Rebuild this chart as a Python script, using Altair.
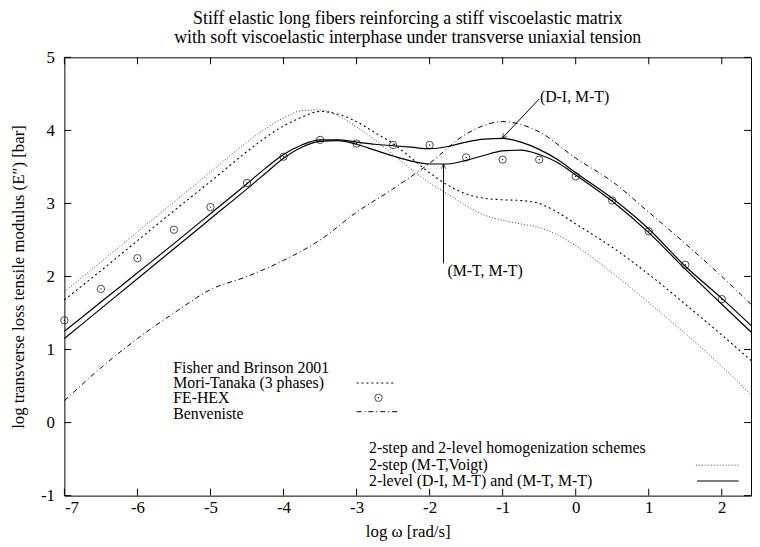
import altair as alt
import pandas as pd

# ---------------- data ----------------
x_grid = [-7, -6.5, -6, -5.5, -5, -4.5, -4.25, -4, -3.75, -3.5, -3.25, -3, -2.75, -2.5,
          -2.25, -2, -1.75, -1.5, -1.25, -1, -0.75, -0.5, -0.25, 0, 0.5, 1, 1.5, 2, 2.4]

voigt = [1.79, 2.20, 2.61, 3.02, 3.43, 3.84, 4.02, 4.17, 4.27, 4.28, 4.20, 4.05, 3.87, 3.67,
         3.47, 3.28, 3.13, 2.97, 2.84, 2.77, 2.72, 2.67, 2.57, 2.42, 2.05, 1.64, 1.22, 0.77, 0.38]

mori_tanaka = [1.68, 2.08, 2.49, 2.90, 3.30, 3.71, 3.90, 4.06, 4.18, 4.26, 4.22, 4.12, 3.97, 3.82,
               3.62, 3.42, 3.25, 3.13, 3.07, 3.05, 3.04, 3.00, 2.88, 2.72, 2.40, 2.03, 1.62, 1.20, 0.85]

di_mt = [1.25, 1.65, 2.05, 2.45, 2.86, 3.27, 3.48, 3.67, 3.80, 3.87, 3.87, 3.84, 3.81, 3.79,
         3.77, 3.75, 3.78, 3.84, 3.88, 3.89, 3.84, 3.74, 3.60, 3.42, 3.07, 2.65, 2.14, 1.70, 1.33]

mt_mt = [1.15, 1.56, 1.97, 2.38, 2.79, 3.20, 3.41, 3.62, 3.77, 3.85, 3.86, 3.81, 3.73, 3.65,
         3.58, 3.54, 3.54, 3.59, 3.66, 3.72, 3.73, 3.67, 3.56, 3.39, 3.03, 2.60, 2.10, 1.62, 1.24]

benv_x = [-7, -6.5, -6, -5.5, -5, -4.5, -4, -3.5, -3, -2.5, -2, -1.5, -1, -0.5, 0, 0.5, 1, 1.5, 2, 2.4]
benveniste = [0.30, 0.75, 1.15, 1.50, 1.82, 2.00, 2.22, 2.50, 2.88, 3.20, 3.55, 3.95, 4.12, 3.98,
              3.62, 3.30, 2.88, 2.45, 2.00, 1.62]

fe_x = [-7, -6.5, -6, -5.5, -5, -4.5, -4, -3.5, -3, -2.5, -2, -1.5, -1, -0.5, 0, 0.5, 1, 1.5, 2]
fe_hex = [1.40, 1.83, 2.25, 2.64, 2.95, 3.28, 3.64, 3.87, 3.82, 3.80, 3.80, 3.63, 3.60, 3.60,
          3.37, 3.04, 2.62, 2.16, 1.69]

x_ticks = [-7, -6, -5, -4, -3, -2, -1, 0, 1, 2]
y_ticks = [-1, 0, 1, 2, 3, 4, 5]

title_lines = ["Stiff elastic long fibers reinforcing a stiff viscoelastic matrix",
               "with soft viscoelastic interphase under transverse uniaxial tension"]

# ---------------- layout ----------------
W, H = 694, 443
FONT = "Liberation Serif"
FS = 16      # legend / annotation text
TFS = 18     # title
AFS = 17     # axis labels and titles
TL = 7       # inward tick length

xs = alt.Scale(domain=[-7, 2.4], nice=False, zero=False)
ys = alt.Scale(domain=[-1, 5], nice=False, zero=False)

ax_common = dict(ticks=False, domain=False, grid=False, labelFont=FONT, labelFontSize=AFS,
                 labelColor="black", titleFont=FONT, titleFontSize=AFS, titleFontWeight="normal",
                 titleColor="black", labelExpr="'' + datum.value")

X = alt.X("x:Q", scale=xs, title="log ω [rad/s]",
          axis=alt.Axis(values=x_ticks, labelPadding=4, titleX=W / 2, titleY=36,
                        titleBaseline="middle", titleAlign="center", **ax_common))
Y = alt.Y("y:Q", scale=ys, title="log transverse loss tensile modulus (E″) [bar]",
          axis=alt.Axis(values=y_ticks, labelPadding=10, titleX=-46, titleY=H / 2,
                        titleAngle=270, titleBaseline="middle", titleAlign="center", **ax_common))


def curve(xv, yv, **mk):
    df = pd.DataFrame({"x": xv, "y": yv})
    return alt.Chart(df).mark_line(interpolate="monotone", **mk).encode(x=X, y=Y)


l_voigt = curve(x_grid, voigt, color="#444", strokeWidth=1, strokeDash=[1, 2])
l_mt = curve(x_grid, mori_tanaka, color="black", strokeWidth=1.1, strokeDash=[2, 3])
l_di = curve(x_grid, di_mt, color="black", strokeWidth=1.2)
l_mtmt = curve(x_grid, mt_mt, color="black", strokeWidth=1.2)
l_benv = curve(benv_x, benveniste, color="black", strokeWidth=1, strokeDash=[5, 3, 1, 3])

fe_df = pd.DataFrame({"x": fe_x, "y": fe_hex})
p_fe = alt.Chart(fe_df).mark_point(shape="circle", size=55, color="black", strokeWidth=1,
                                   filled=False).encode(x=X, y=Y)
p_fe_dot = alt.Chart(fe_df).mark_circle(size=2, color="black", opacity=1).encode(x=X, y=Y)

# inward ticks on all four sides
xt = pd.DataFrame({"x": x_ticks})
yt = pd.DataFrame({"y": y_ticks})
tk = dict(color="black", strokeWidth=1)
t_bot = alt.Chart(xt).mark_rule(**tk).encode(x=X, y=alt.value(H), y2=alt.value(H - TL))
t_top = alt.Chart(xt).mark_rule(**tk).encode(x=X, y=alt.value(0), y2=alt.value(TL))
t_left = alt.Chart(yt).mark_rule(**tk).encode(y=Y, x=alt.value(0), x2=alt.value(TL))
t_right = alt.Chart(yt).mark_rule(**tk).encode(y=Y, x=alt.value(W), x2=alt.value(W - TL))

# ---------------- title (two centred lines above the frame) ----------------
ttl = dict(align="center", baseline="alphabetic", font=FONT, fontSize=TFS, color="black")
title1 = alt.Chart(pd.DataFrame({"t": [title_lines[0]]})).mark_text(**ttl).encode(
    text="t:N", x=alt.value(W / 2), y=alt.value(-34))
title2 = alt.Chart(pd.DataFrame({"t": [title_lines[1]]})).mark_text(**ttl).encode(
    text="t:N", x=alt.value(W / 2), y=alt.value(-14))

# ---------------- legends (as in the original gnuplot keys) ----------------
leg1_text = pd.DataFrame({"x": [-5.51] * 4, "y": [0.745, 0.542, 0.339, 0.122],
                          "t": ["Fisher and Brinson 2001", "Mori-Tanaka (3 phases)", "FE-HEX", "Benveniste"]})
leg2_text = pd.DataFrame({"x": [-2.83] * 3, "y": [-0.352, -0.583, -0.80],
                          "t": ["2-step and 2-level homogenization schemes", "2-step (M-T,Voigt)",
                                "2-level (D-I, M-T) and (M-T, M-T)"]})
txt = dict(align="left", baseline="middle", font=FONT, fontSize=FS, color="black")
g1 = alt.Chart(leg1_text).mark_text(**txt).encode(x=X, y=Y, text="t:N")
g2 = alt.Chart(leg2_text).mark_text(**txt).encode(x=X, y=Y, text="t:N")


def sample(x0, x1, yy, **mk):
    df = pd.DataFrame({"x": [x0, x1], "y": [yy, yy]})
    return alt.Chart(df).mark_line(**mk).encode(x=X, y=Y)


s_mt = sample(-3.0, -2.46, 0.542, color="black", strokeWidth=1.1, strokeDash=[2, 3])
s_benv = sample(-3.0, -2.43, 0.149, color="black", strokeWidth=1, strokeDash=[5, 3, 1, 3])
s_voigt = sample(1.645, 2.24, -0.583, color="#444", strokeWidth=1, strokeDash=[1, 2])
s_solid = sample(1.66, 2.23, -0.80, color="black", strokeWidth=1.2)
s_fe_df = pd.DataFrame({"x": [-2.70], "y": [0.339]})
s_fe = alt.Chart(s_fe_df).mark_point(shape="circle", size=55, color="black", strokeWidth=1,
                                     filled=False).encode(x=X, y=Y)
s_fe_dot = alt.Chart(s_fe_df).mark_circle(size=2, color="black", opacity=1).encode(x=X, y=Y)

# ---------------- annotations ----------------
ann_text = pd.DataFrame({"x": [-0.49, -1.756], "y": [4.46, 2.07], "t": ["(D-I, M-T)", "(M-T, M-T)"]})
a_text = alt.Chart(ann_text).mark_text(**txt).encode(x=X, y=Y, text="t:N")
arrows = pd.DataFrame({"x": [-0.50, -1.81], "y": [4.43, 2.18], "x2": [-1.01, -1.81], "y2": [3.89, 3.54]})
a_lines = alt.Chart(arrows).mark_rule(color="black", strokeWidth=1).encode(
    x=X, y=Y, x2="x2:Q", y2="y2:Q")
heads = pd.DataFrame({"x": [-1.01, -1.81], "y": [3.89, 3.54], "ang": [224, 0]})
a_heads = alt.Chart(heads).mark_point(shape="M-0.45,1L0,0L0.45,1", size=90, filled=False,
                                      color="black", strokeWidth=1).encode(
    x=X, y=Y, angle=alt.Angle("ang:Q", scale=None))

chart = alt.layer(
    l_voigt, l_mt, l_benv, l_di, l_mtmt, p_fe, p_fe_dot,
    t_bot, t_top, t_left, t_right,
    g1, g2, s_mt, s_benv, s_voigt, s_solid, s_fe, s_fe_dot,
    a_lines, a_heads, a_text, title1, title2,
).properties(
    width=W, height=H,
    padding={"left": 57, "top": 47, "right": 1, "bottom": 45},
    autosize="none",
).configure_view(stroke="black", strokeWidth=1)

chart.save("out.html", embed_options={"renderer": "svg", "actions": False})
